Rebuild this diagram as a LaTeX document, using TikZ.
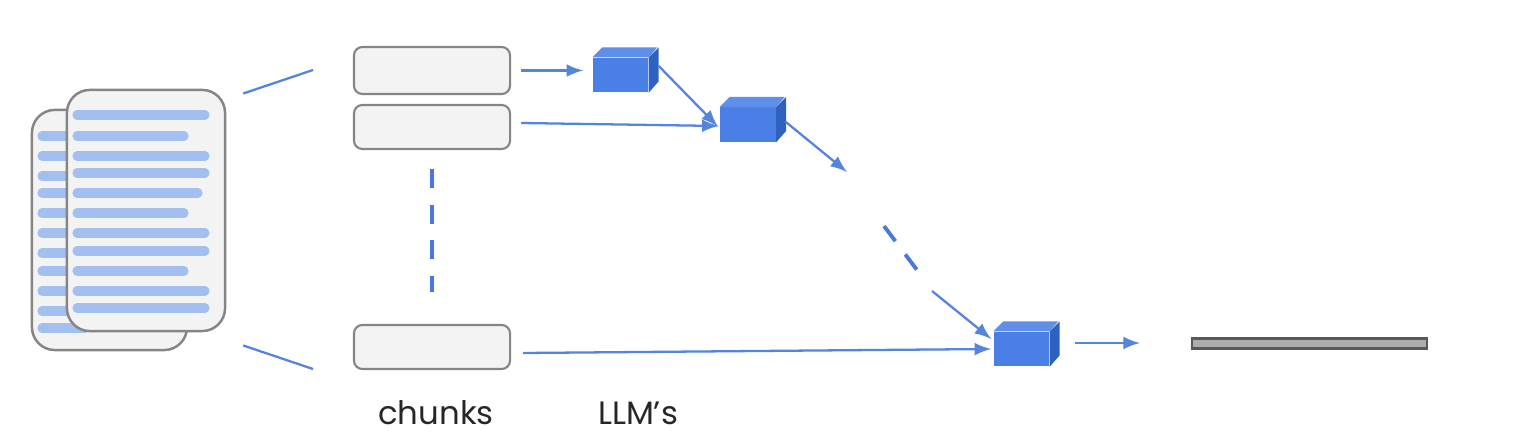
\documentclass[tikz,border=0pt]{standalone}
\usepackage{fontspec}
\setmainfont{Poppins}
\usetikzlibrary{arrows}
\definecolor{bleuCube}{HTML}{4A7FE6}
\definecolor{bleuHaut}{HTML}{5F8FE8}
\definecolor{bleuCote}{HTML}{2F62C0}
\definecolor{bleuFleche}{HTML}{5584DC}
\definecolor{bleuLigne}{HTML}{A3BFEF}
\definecolor{fondGris}{HTML}{F3F3F3}
\definecolor{bordGris}{HTML}{858585}
\begin{document}
\begin{tikzpicture}[x=0.01cm,y=-0.01cm]
% Styles
\tikzstyle{chunk}=[draw=bordGris,fill=fondGris,line width=0.6pt,rounded corners=2.4pt,minimum width=1.56cm,inner sep=0pt]
\tikzstyle{feuille}=[draw=bordGris,fill=fondGris,line width=0.7pt,rounded corners=6.5pt,inner sep=0pt]
\tikzstyle{ligne}=[bleuLigne,line width=2.6pt,line cap=round]
\tikzstyle{face}=[fill=bleuCube,minimum width=0.55cm,minimum height=0.34cm,inner sep=0pt]
\tikzstyle{fleche}=[->,>=latex,bleuFleche,line width=0.65pt]
\tikzstyle{trait}=[bleuFleche,line width=0.65pt]
\tikzstyle{tirets}=[draw=bleuFleche!90!blue,line width=1.1pt]
\tikzstyle{texte}=[text=black!85,font=\fontsize{9.2}{11}\selectfont,inner sep=0pt]
% Cube : nom, x, y
\def\cubeLLM#1#2#3{
\node[face] (#1) at (#2,#3) {};
\fill[bleuHaut] (#1.north west) -- ++(10,-10) -- ++(55,0) -- (#1.north east) -- cycle;
\fill[bleuCote] (#1.north east) -- ++(10,-10) -- ++(0,34) -- (#1.south east) -- cycle;
}
\useasboundingbox (0,0) rectangle (1528,434);
% Feuille arriere
\node[feuille,minimum width=1.55cm,minimum height=2.40cm] (docB) at (109.5,230) {};
\foreach \y in {136,156,176,193,213,233,253,271,291,311} {
\draw[ligne] (42,\y) -- (75,\y);
}
\draw[ligne] (42,328) -- (85,328);
% Feuille avant
\node[feuille,minimum width=1.58cm,minimum height=2.41cm] (docA) at (146,210.5) {};
\foreach \y/\fin in {115/205,136/184,156/205,173/205,193/198,213/184,233/205,251/205,271/184,291/205,308/205} {
\draw[ligne] (77,\y) -- (\fin,\y);
}
% Blocs
\node[chunk,minimum height=0.47cm] (chunkA) at (432,70.5) {};
\node[chunk,minimum height=0.44cm] (chunkB) at (432,127) {};
\node[chunk,minimum height=0.44cm] (chunkC) at (432,347) {};
\cubeLLM{cubeA}{620.5}{75}
\cubeLLM{cubeB}{748}{124.5}
\cubeLLM{cubeC}{1021.5}{349}
% Sortie
\node[draw=black!65,fill=black!32,line width=0.6pt,minimum width=2.35cm,minimum height=0.10cm,inner sep=0pt] (sortie) at (1309.5,343.5) {};
% Extremites libres
\coordinate (hautFan) at (313,70);
\coordinate (basFan) at (313,369);
\coordinate (finB) at (847,172);
\coordinate (tiretA) at (884,226);
\coordinate (tiretB) at (917,270);
\coordinate (departC) at (932,291);
\coordinate (finC) at (1140,343);
% Connexions
\draw[trait] ([shift={(17,-117)}]docA.east) -- (hautFan);
\draw[trait] ([shift={(17,135)}]docA.east) -- (basFan);
\draw[fleche] ([xshift=0.1cm]chunkA.east) -- ([shift={(-9,-4.5)}]cubeA.west);
\draw[fleche] ([shift={(10,-4)}]chunkB.east) -- ([shift={(-1,1.5)}]cubeB.west);
\draw[fleche] ([shift={(12,6)}]chunkC.east) -- ([shift={(-2,0)}]cubeC.west);
\draw[fleche] ([shift={(10,-9)}]cubeA.east) -- ([shift={(-2,2)}]cubeB.west);
\draw[fleche] ([shift={(9,-3)}]cubeB.east) -- (finB);
\draw[tirets,dash pattern=on 5.4pt off 4.7pt] (tiretA) -- (tiretB);
\draw[fleche] (departC) -- ([shift={(-2,-10)}]cubeC.west);
\draw[fleche] ([shift={(25,-6)}]cubeC.east) -- (finC);
\draw[tirets,dash pattern=on 5.4pt off 4.7pt] ([yshift=-0.19cm]chunkB.south) -- ([yshift=0.32cm]chunkC.north);
% Legendes
\node[texte] (legendeChunks) at (436,413) {chunks};
\node[texte] (legendeLLM) at (638,413) {LLM’s};
\end{tikzpicture}
\end{document}
